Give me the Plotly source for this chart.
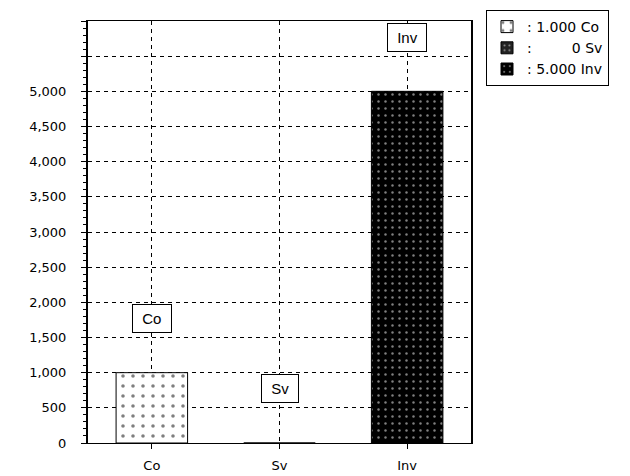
import plotly.graph_objects as go

categories = ["Co", "Sv", "Inv"]
values = [1000, 0, 5000]
legend_labels = ["1.000 Co", "\u00a0\u00a0\u00a0\u00a0\u00a0\u00a0\u00a0\u00a00 Sv", "5.000 Inv"]
tick_vals = [0, 500, 1000, 1500, 2000, 2500, 3000, 3500, 4000, 4500, 5000, 5500, 6000]
tick_text = ["0", "500", "1,000", "1,500", "2,000", "2,500", "3,000", "3,500",
             "4,000", "4,500", "5,000", "", ""]

fills = [
    dict(color="white", pattern=dict(shape=".", fgcolor="black", bgcolor="white", size=10, solidity=0.1)),
    dict(color="#333333", pattern=dict(shape=".", fgcolor="white", bgcolor="#222222", size=6, solidity=0.15)),
    dict(color="black", pattern=dict(shape=".", fgcolor="white", bgcolor="black", size=7, solidity=0.1)),
]

fig = go.Figure()
for cat, val, lab, f in zip(categories, values, legend_labels, fills):
    fig.add_trace(go.Bar(
        x=[cat], y=[val], name=": " + lab,
        marker=dict(color=f["color"], pattern=f["pattern"], line=dict(color="black", width=1)),
        width=0.56, offsetgroup="a",
    ))
    fig.add_annotation(
        x=cat, y=val + 770, text="\u00a0" + cat + "\u00a0", showarrow=False,
        bordercolor="black", borderwidth=1, bgcolor="white", borderpad=5,
        font=dict(size=15, color="black", family="Liberation Sans, Arial, sans-serif"),
    )

W, H = 622, 468  # page body has an 8px default margin
fig.update_layout(
    width=W, height=H,
    margin=dict(l=80, r=159, t=13, b=33, autoexpand=False),
    paper_bgcolor="white", plot_bgcolor="white",
    font=dict(family="DejaVu Sans, Liberation Sans, sans-serif", size=13, color="black"),
    barmode="group",
    legend=dict(
        xref="container", yref="container",
        x=478 / W, y=1 - 2 / H, xanchor="left", yanchor="top",
        bgcolor="white", bordercolor="black", borderwidth=1,
        font=dict(size=14), itemwidth=30, tracegroupgap=0,
    ),
    xaxis=dict(
        showline=True, linecolor="black", linewidth=1, mirror=True,
        ticks="outside", ticklen=5, tickcolor="black",
        showgrid=True, gridcolor="black", griddash="4px,4px", gridwidth=1,
        ticklabelstandoff=5,
    ),
    yaxis=dict(
        range=[0, 6000], tickvals=tick_vals, ticktext=tick_text,
        showline=True, linecolor="black", linewidth=2, mirror=True,
        ticks="outside", ticklen=5, tickcolor="black",
        showgrid=True, gridcolor="black", griddash="4px,4px", gridwidth=1,
        zeroline=False, ticklabelstandoff=12,
        minor=dict(ticks="outside", ticklen=3, dtick=100, tickcolor="black", showgrid=False),
    ),
)

fig.write_html("out.html")
